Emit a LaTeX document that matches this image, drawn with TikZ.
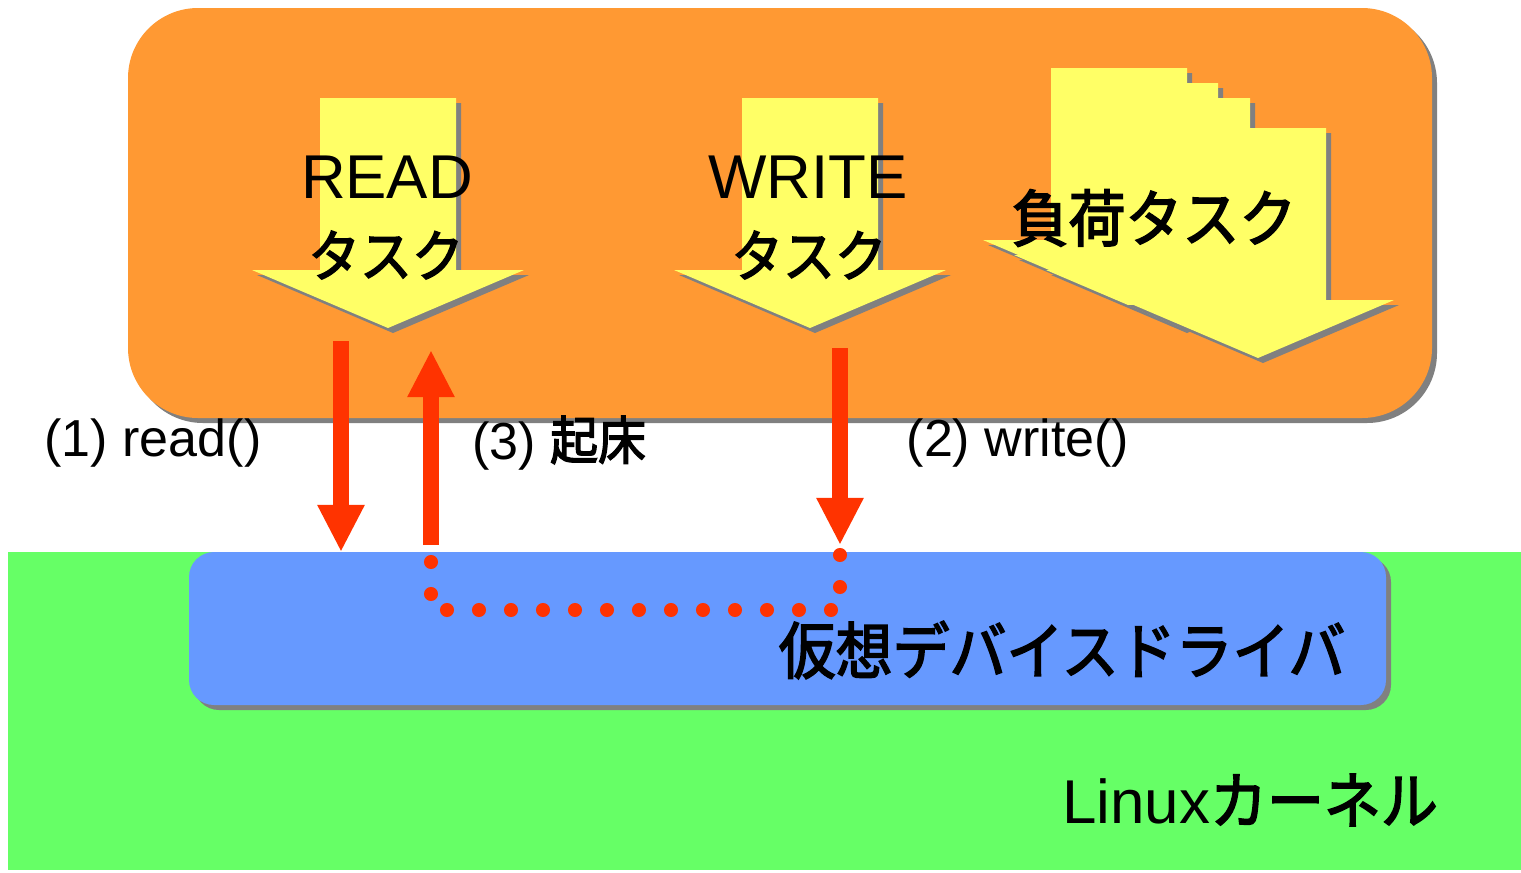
\documentclass[tikz,border=0pt]{standalone}
\usepackage{fontspec}
\setmainfont{Liberation Sans}
\newfontfamily\jp[FakeStretch=0.92,FakeBold=2.6]{Noto Sans CJK JP}
\usetikzlibrary{arrows.meta}
\definecolor{taskorange}{HTML}{FF9933}
\definecolor{taskyellow}{HTML}{FFFF66}
\definecolor{kernelgreen}{HTML}{66FF66}
\definecolor{driverblue}{HTML}{6699FF}
\definecolor{callred}{HTML}{FF3300}
\definecolor{shadowgray}{HTML}{808080}
% block arrow with its shadow, tip at (#1,#2)
\newcommand{\taskarrow}[2]{%
  \fill[shadowgray,shift={(#1+5,#2+5)}] (-68,-230) -- (68,-230) -- (68,-58) -- (136,-58) -- (0,0) -- (-136,-58) -- (-68,-58) -- cycle;
  \fill[taskyellow,shift={(#1,#2)}] (-68,-230) -- (68,-230) -- (68,-58) -- (136,-58) -- (0,0) -- (-136,-58) -- (-68,-58) -- cycle;}

\begin{document}
\begin{tikzpicture}[x=0.01cm,y=-0.01cm,
    big/.style={font=\fontsize{17.6}{20}\selectfont},
    jpbig/.style={font=\fontsize{17.6}{20}\selectfont\jp},
    call/.style={font=\fontsize{14.8}{17}\selectfont},
    callarrow/.style={callred,line width=4.55pt,-{Triangle[width=12.5pt,length=13.4pt]}}]
\useasboundingbox (0,0) rectangle (1521,872);
% kernel and driver
\fill[kernelgreen] (8,552) rectangle (1521,870);
\fill[shadowgray,rounded corners=0.25cm] (194,557) rectangle (1391,710);
\fill[driverblue,rounded corners=0.25cm] (189,552) rectangle (1386,705);
% user space
\fill[shadowgray,rounded corners=0.7cm] (133,13) rectangle (1437,423);
\fill[taskorange,rounded corners=0.7cm] (128,8) rectangle (1432,418);
\taskarrow{388}{328}
\taskarrow{810}{328}
\taskarrow{1119}{298}
\taskarrow{1150}{313}
\taskarrow{1182}{328}
\taskarrow{1258}{358}
\node[big] (readtask) at (387,177) {READ};
\node[jpbig,font=\fontsize{16}{20}\selectfont\jp] (readjp) at (386,255) {タスク};
\node[big] (writetask) at (808,177) {WRITE};
\node[jpbig,font=\fontsize{16}{20}\selectfont\jp] (writejp) at (809,255) {タスク};
\node[jpbig] (loadtask) at (1154,218) {負荷タスク};
\node[jpbig] (driver) at (1062,650) {仮想デバイスドライバ};
\node[big] (kernel) at (1250,800) {Linux{\jp カーネル}};
% system calls
\coordinate (readfrom) at (341,341);
\coordinate (readto) at (341,552);
\coordinate (wakefrom) at (431,545);
\coordinate (waketo) at (431,350);
\coordinate (writefrom) at (840,348);
\coordinate (writeto) at (840,545);
\draw[callarrow] (readfrom) -- (readto);
\draw[callarrow] (wakefrom) -- (waketo);
\draw[callarrow] (writefrom) -- (writeto);
\draw[callred,line width=4pt,line cap=round,dash pattern=on 0pt off 9.1pt] (writeto) ++(0,10) -- (840,610) -- (431,610) -- (wakefrom);
\node[call] (readcall) at (153,443) {(1) read()};
\node[call] (wakecall) at (559,443) {(3) {\jp 起床}};
\node[call] (writecall) at (1018,443) {(2) write()};
\end{tikzpicture}
\end{document}
